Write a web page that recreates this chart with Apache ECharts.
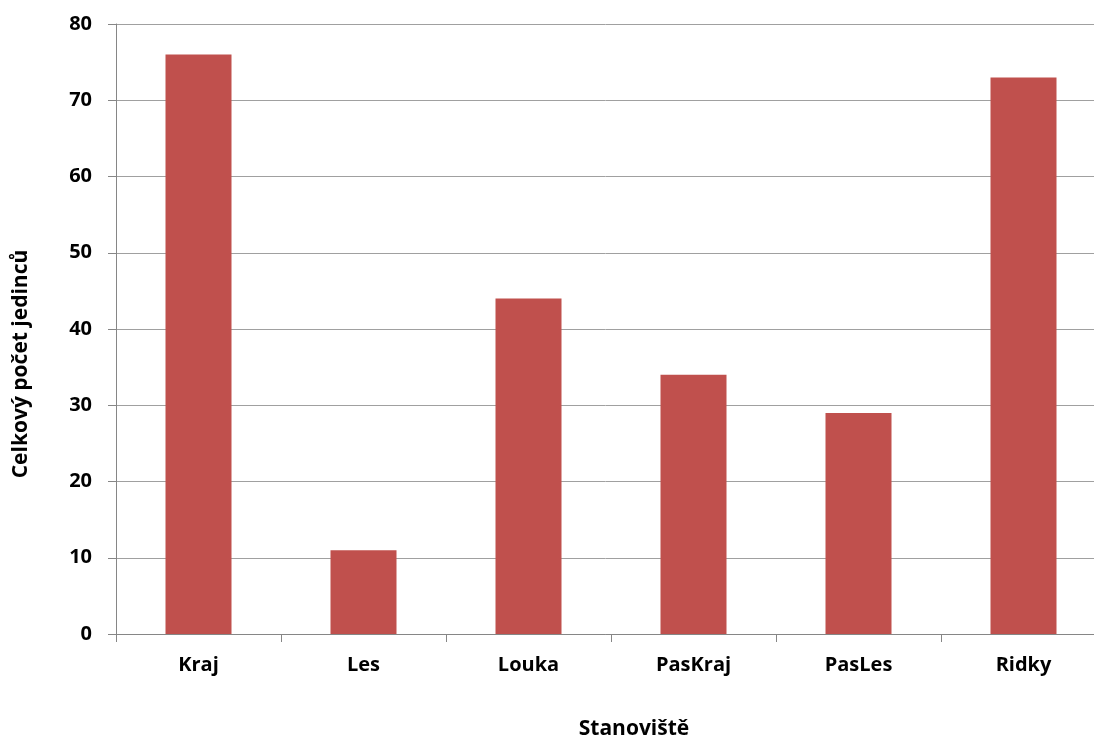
<!DOCTYPE html>
<html>
<head>
<meta charset="utf-8">
<script src="https://cdn.jsdelivr.net/npm/echarts@6/dist/echarts.min.js"></script>
<style>
  html, body { margin: 0; padding: 0; background: #fff; }
  #chart { width: 1094px; height: 737px; }
</style>
</head>
<body>
<div id="chart"></div>
<script>
// data
var stanoviste = ["Kraj", "Les", "Louka", "PasKraj", "PasLes", "Ridky"];
var pocetJedincu = [76, 11, 44, 34, 29, 73];
var yTicks = { min: 0, max: 80, interval: 10 };

var chart = echarts.init(document.getElementById('chart'));
var fontFam = '"Open Sans", "DejaVu Sans", sans-serif';

var option = {
  backgroundColor: "#fff",
  animation: false,
  grid: {
    left: 116,
    right: -12,
    top: 24,
    bottom: 103,
    outerBoundsMode: 'none',
    containLabel: false
  },
  xAxis: {
    type: 'category',
    data: stanoviste,
    name: 'Stanoviště',
    nameLocation: 'middle',
    nameGap: 85,
    nameTextStyle: { fontFamily: fontFam, fontSize: 21, fontWeight: 'bold', color: '#000', padding: [0, 0, 0, 46] },
    axisLine: { show: true, lineStyle: { color: '#868686', width: 1 } },
    axisTick: { show: true, length: 8, alignWithLabel: false, lineStyle: { color: '#868686' } },
    axisLabel: { fontFamily: fontFam, fontSize: 20, fontWeight: 'bold', color: '#000', margin: 21 },
    splitLine: { show: false }
  },
  yAxis: {
    type: 'value',
    min: yTicks.min,
    max: yTicks.max,
    interval: yTicks.interval,
    name: 'Celkový počet jedinců',
    nameLocation: 'middle',
    nameGap: 84,
    nameRotate: 90,
    nameTextStyle: { fontFamily: fontFam, fontSize: 21, fontWeight: 'bold', color: '#000', padding: [0, 70, 0, 0] },
    axisLine: { show: true, lineStyle: { color: '#868686', width: 1 } },
    axisTick: { show: true, length: 8, lineStyle: { color: '#868686' } },
    axisLabel: { fontFamily: fontFam, fontSize: 20, fontWeight: 'bold', color: '#000', margin: 24 },
    splitLine: { show: true, lineStyle: { color: '#a0a0a0', width: 1 } }
  },
  series: [{
    name: 'Celkový počet jedinců',
    type: 'bar',
    data: pocetJedincu,
    barWidth: '40%',
    itemStyle: { color: '#C0504D' }
  }]
};
chart.setOption(option);
</script>
</body>
</html>
